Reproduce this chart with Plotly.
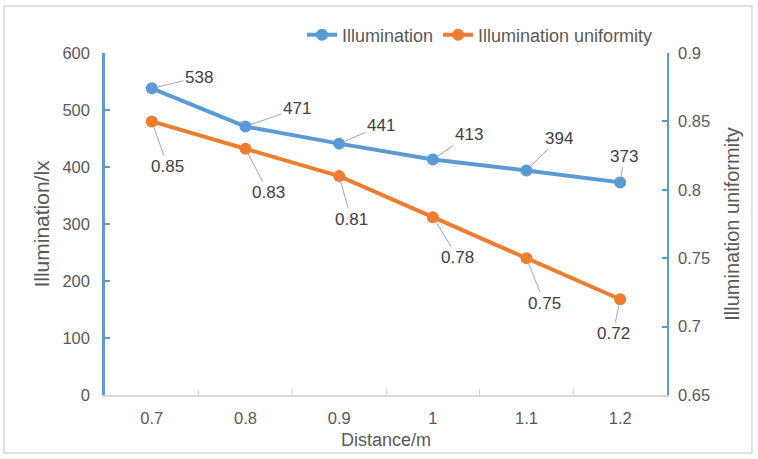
import plotly.graph_objects as go

distance = ["0.7", "0.8", "0.9", "1", "1.1", "1.2"]
illumination = [538, 471, 441, 413, 394, 373]
uniformity = [0.85, 0.83, 0.81, 0.78, 0.75, 0.72]

left_ticks = [0, 100, 200, 300, 400, 500, 600]
right_ticks = [0.65, 0.7, 0.75, 0.8, 0.85, 0.9]
right_ticktext = ["0.65", "0.7", "0.75", "0.8", "0.85", "0.9"]

# label offsets (pixels) for data labels
ill_off = [(47, -11), (51, -18), (42, -18), (36, -25), (32, -32), (4, -26)]
uni_off = [(16, 45), (23, 44), (12, 43), (25, 40), (18, 45), (-7, 34)]

BLUE = "#5b9bd5"
ORANGE = "#ed7d31"
TXT = "#595959"
FONT = "Liberation Sans"
TICK = 16.5
LAB = 17
LEG = 18

fig = go.Figure()
fig.add_trace(go.Scatter(
    x=distance, y=illumination, name="Illumination", mode="lines+markers",
    line=dict(color=BLUE, width=4), marker=dict(size=12, color=BLUE),
    yaxis="y"))
fig.add_trace(go.Scatter(
    x=distance, y=uniformity, name="Illumination uniformity", mode="lines+markers",
    line=dict(color=ORANGE, width=4), marker=dict(size=12, color=ORANGE),
    yaxis="y2"))

ann = []
for i, (yv, (dx, dy)) in enumerate(zip(illumination, ill_off)):
    ann.append(dict(x=i, y=yv, xref="x", yref="y", text=str(yv),
                    showarrow=True, arrowhead=0, arrowwidth=1, arrowcolor="#a6a6a6",
                    ax=dx, ay=dy, standoff=5,
                    font=dict(family=FONT, size=LAB, color="#404040")))
for i, (yv, (dx, dy)) in enumerate(zip(uniformity, uni_off)):
    ann.append(dict(x=i, y=yv, xref="x", yref="y2", text=f"{yv:.2f}",
                    showarrow=True, arrowhead=0, arrowwidth=1, arrowcolor="#a6a6a6",
                    ax=dx, ay=dy, standoff=5,
                    font=dict(family=FONT, size=LAB, color="#404040")))

L, R, T, B = 105, 91, 53, 64
W, H = 758, 459
pw, ph = W - L - R, H - T - B

fig.update_layout(
    width=W, height=H,
    margin=dict(l=L, r=R, t=T, b=B),
    paper_bgcolor="white", plot_bgcolor="white",
    font=dict(family=FONT, size=TICK, color=TXT),
    showlegend=True,
    legend=dict(orientation="h", x=(480 - L) / pw, xanchor="center",
                y=1 + (T - 35) / ph, yanchor="middle",
                font=dict(family=FONT, size=LEG, color=TXT),
                bgcolor="rgba(0,0,0,0)", itemwidth=30),
    xaxis=dict(type="category", range=[-0.5, 5.5], showgrid=False,
               showline=True, linecolor="#d9d9d9", linewidth=1.5,
               ticks="inside", tickson="boundaries", ticklen=6, tickcolor="#d9d9d9",
               ticklabelstandoff=7,
               tickfont=dict(family=FONT, size=TICK, color=TXT),
               title=dict(text="Distance/m", standoff=8,
                          font=dict(family=FONT, size=18, color=TXT))),
    yaxis=dict(range=[0, 600], tickvals=left_ticks, showgrid=False, zeroline=False,
               showline=True, linecolor=BLUE, linewidth=2.5,
               ticks="inside", ticklen=5, tickcolor=BLUE, tickwidth=1.5,
               ticklabelstandoff=9,
               tickfont=dict(family=FONT, size=TICK, color=TXT),
               title=dict(text="Illumination/lx", standoff=8,
                          font=dict(family=FONT, size=21, color=TXT))),
    yaxis2=dict(range=[0.65, 0.9], tickvals=right_ticks, ticktext=right_ticktext,
                overlaying="y", side="right", showgrid=False, zeroline=False,
                showline=True, linecolor=BLUE, linewidth=1.5,
                ticks="inside", ticklen=5, tickcolor=BLUE, tickwidth=1.5,
                ticklabelstandoff=6,
                tickfont=dict(family=FONT, size=TICK, color=TXT),
                title=dict(text="Illumination uniformity", standoff=16,
                           font=dict(family=FONT, size=20, color=TXT))),
    annotations=ann,
    shapes=[dict(type="rect", xref="paper", yref="paper",
                 x0=(4 - L) / pw, x1=(752 - L) / pw,
                 y0=(H - B - 453) / ph, y1=(H - B - 6) / ph,
                 line=dict(color="#d9d9d9", width=1.5), fillcolor="rgba(0,0,0,0)",
                 layer="below")],
)

fig.write_html("out.html")
